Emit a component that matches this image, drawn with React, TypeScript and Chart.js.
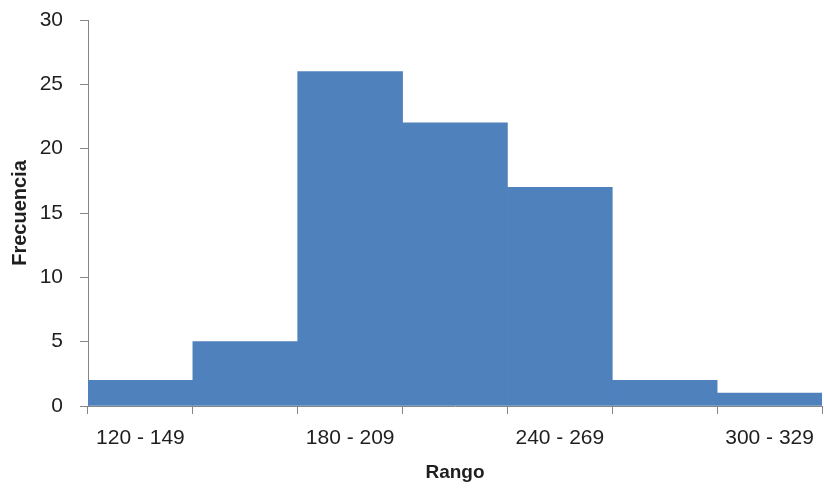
import React, { useEffect, useRef } from "react";
import { Chart, registerables } from "chart.js";

Chart.register(...registerables);

const categories = ["120 - 149", "150 - 179", "180 - 209", "210 - 239", "240 - 269", "270 - 299", "300 - 329"];
const frequencies = [2, 5, 26, 22, 17, 2, 1];
const yTicks = [0, 5, 10, 15, 20, 25, 30];

export default function App() {
  const ref = useRef<HTMLCanvasElement | null>(null);

  useEffect(() => {
    document.body.style.margin = "0";
    const canvas = ref.current;
    if (!canvas) return;
    const axisGray = "#868686";
    const textColor = "#1e1e1e";
    const chart = new Chart(canvas, {
      type: "bar",
      data: {
        labels: categories,
        datasets: [
          {
            label: "Frecuencia",
            data: frequencies,
            backgroundColor: "#4F81BD",
            borderWidth: 0,
            barPercentage: 1,
            categoryPercentage: 1,
          },
        ],
      },
      options: {
        animation: false,
        responsive: true,
        maintainAspectRatio: false,
        layout: { padding: { top: 20, right: 2, left: 0, bottom: 0 } },
        plugins: { legend: { display: false }, tooltip: { enabled: false } },
        scales: {
          x: {
            offset: true,
            afterFit: (s: any) => {
              s.height = 82;
              s.paddingLeft = 0;
              s.paddingRight = 0;
            },
            grid: {
              offset: true,
              drawOnChartArea: false,
              drawTicks: true,
              tickLength: 8,
              color: axisGray,
            },
            border: { display: true, color: axisGray, width: 1 },
            ticks: {
              autoSkip: false,
              maxRotation: 0,
              minRotation: 0,
              padding: 12,
              color: textColor,
              font: { family: "'Liberation Sans', Arial, sans-serif", size: 21 },
              callback: (_v: any, i: number) => (i % 2 === 0 ? categories[i] : ""),
            },
            title: {
              display: true,
              text: "Rango",
              color: textColor,
              font: { family: "'Liberation Sans', Arial, sans-serif", size: 19, weight: "bold" },
              padding: { top: 0, bottom: 4 },
            },
          },
          y: {
            min: 0,
            max: 30,
            afterFit: (s: any) => {
              s.width = 88;
              s.paddingTop = 0;
              s.paddingBottom = 0;
            },
            afterBuildTicks: (s: any) => {
              s.ticks = yTicks.map((v) => ({ value: v }));
            },
            grid: {
              drawOnChartArea: false,
              drawTicks: true,
              tickLength: 8,
              color: axisGray,
            },
            border: { display: true, color: axisGray, width: 1 },
            ticks: {
              padding: 17,
              color: textColor,
              font: { family: "'Liberation Sans', Arial, sans-serif", size: 21 },
            },
            title: {
              display: true,
              text: "Frecuencia",
              color: textColor,
              font: { family: "'Liberation Sans', Arial, sans-serif", size: 20, weight: "bold" },
              padding: { top: 8, bottom: 0 },
            },
          },
        },
      },
    });
    return () => chart.destroy();
  }, []);

  return (
    <div style={{ position: "fixed", left: 0, top: 0, width: 824, height: 488 }}>
      <canvas ref={ref} />
    </div>
  );
}
